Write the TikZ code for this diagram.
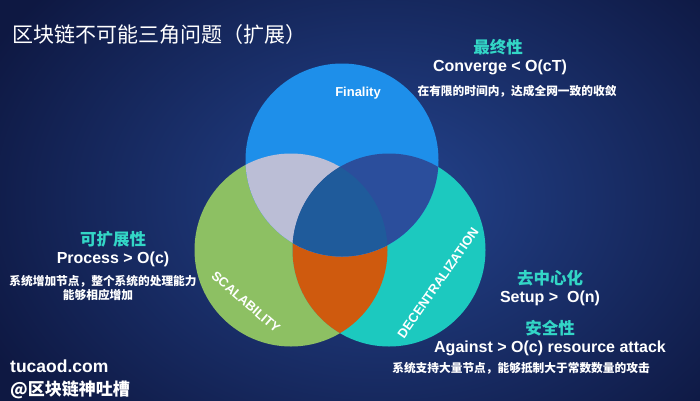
\documentclass[tikz,border=0pt]{standalone}
\usepackage{fontspec}
\setmainfont{Liberation Sans}
\newfontfamily\cjk{Noto Sans CJK SC}
\definecolor{bgedge}{HTML}{0E1842}
\definecolor{bgmid}{HTML}{24448E}
\definecolor{finblue}{HTML}{1E8FEA}
\definecolor{scagreen}{HTML}{8DC063}
\definecolor{decteal}{HTML}{1CC9BF}
\definecolor{graylav}{HTML}{BBBED6}
\definecolor{darkblue}{HTML}{2B4E9C}
\definecolor{centerblue}{HTML}{1F5B9B}
\definecolor{orangec}{HTML}{CF5A0E}
\definecolor{headteal}{HTML}{33D6C6}
\tikzset{
  title/.style={text=white, font=\cjk\fontsize{21}{25}\selectfont, anchor=west, inner sep=0pt},
  head/.style={text=headteal, font=\cjk\bfseries\fontsize{16.5}{20}\selectfont, inner sep=0pt},
  formula/.style={text=white, font=\bfseries\fontsize{16}{19}\selectfont, inner sep=0pt},
  note/.style={text=white, font=\cjk\bfseries\fontsize{11.7}{14}\selectfont, inner sep=0pt},
  circlabel/.style={text=white, font=\bfseries\fontsize{13}{15}\selectfont, inner sep=0pt},
  brand/.style={text=white, font=\bfseries\fontsize{17.5}{21}\selectfont, anchor=west, inner sep=0pt}
}
\begin{document}
\begin{tikzpicture}[x=1pt,y=-1pt]
\useasboundingbox (0,0) rectangle (700,400);
\shade[inner color=bgmid, outer color=bgedge] (-60,-120) rectangle (820,520);
% circle centres
\coordinate (T) at (342,160);
\coordinate (L) at (291,250);
\coordinate (R) at (389,250);
\def\rad{96.5}
% base circles
\fill[scagreen] (L) circle (\rad pt);
\fill[decteal] (R) circle (\rad pt);
\begin{scope}
  \clip (L) circle (\rad pt);
  \fill[orangec] (R) circle (\rad pt);
\end{scope}
\fill[finblue] (T) circle (\rad pt);
\begin{scope}
  \clip (T) circle (\rad pt);
  \fill[graylav] (L) circle (\rad pt);
  \fill[darkblue] (R) circle (\rad pt);
  \clip (L) circle (\rad pt);
  \fill[centerblue] (R) circle (\rad pt);
\end{scope}
% circle labels
\node[circlabel] (fin) at (358,93) {Finality};
\node[circlabel, rotate=-41] (sca) at (246,302) {SCALABILITY};
\node[circlabel, rotate=55] (dec) at (438,283) {DECENTRALIZATION};
% title
\node[title] (ttl) at (12,35) {区块链不可能三角问题（扩展）};
% finality text
\node[head] (h1) at (498,47) {最终性};
\node[formula] (f1) at (500,67) {Converge < O(cT)};
\node[note] (n1) at (517,91) {在有限的时间内，达成全网一致的收敛};
% scalability text
\node[head] (h2) at (113,239) {可扩展性};
\node[formula] (f2) at (113,259) {Process > O(c)};
\node[note] (n2) at (103,281) {系统增加节点，整个系统的处理能力};
\node[note] (n3) at (98,295) {能够相应增加};
% decentralization text
\node[head] (h3) at (550,278) {去中心化};
\node[formula] (f3) at (550,298) {Setup >\ \ O(n)};
\node[head] (h4) at (550,328) {安全性};
\node[formula] (f4) at (550,348) {Against > O(c) resource attack};
\node[note] (n4) at (521,368) {系统支持大量节点，能够抵制大于常数数量的攻击};
% brand
\node[brand] (b1) at (10,366) {tucaod.com};
\node[brand, font=\cjk\bfseries\fontsize{17}{20}\selectfont] (b2) at (10,390) {@区块链神吐槽};
\end{tikzpicture}
\end{document}
